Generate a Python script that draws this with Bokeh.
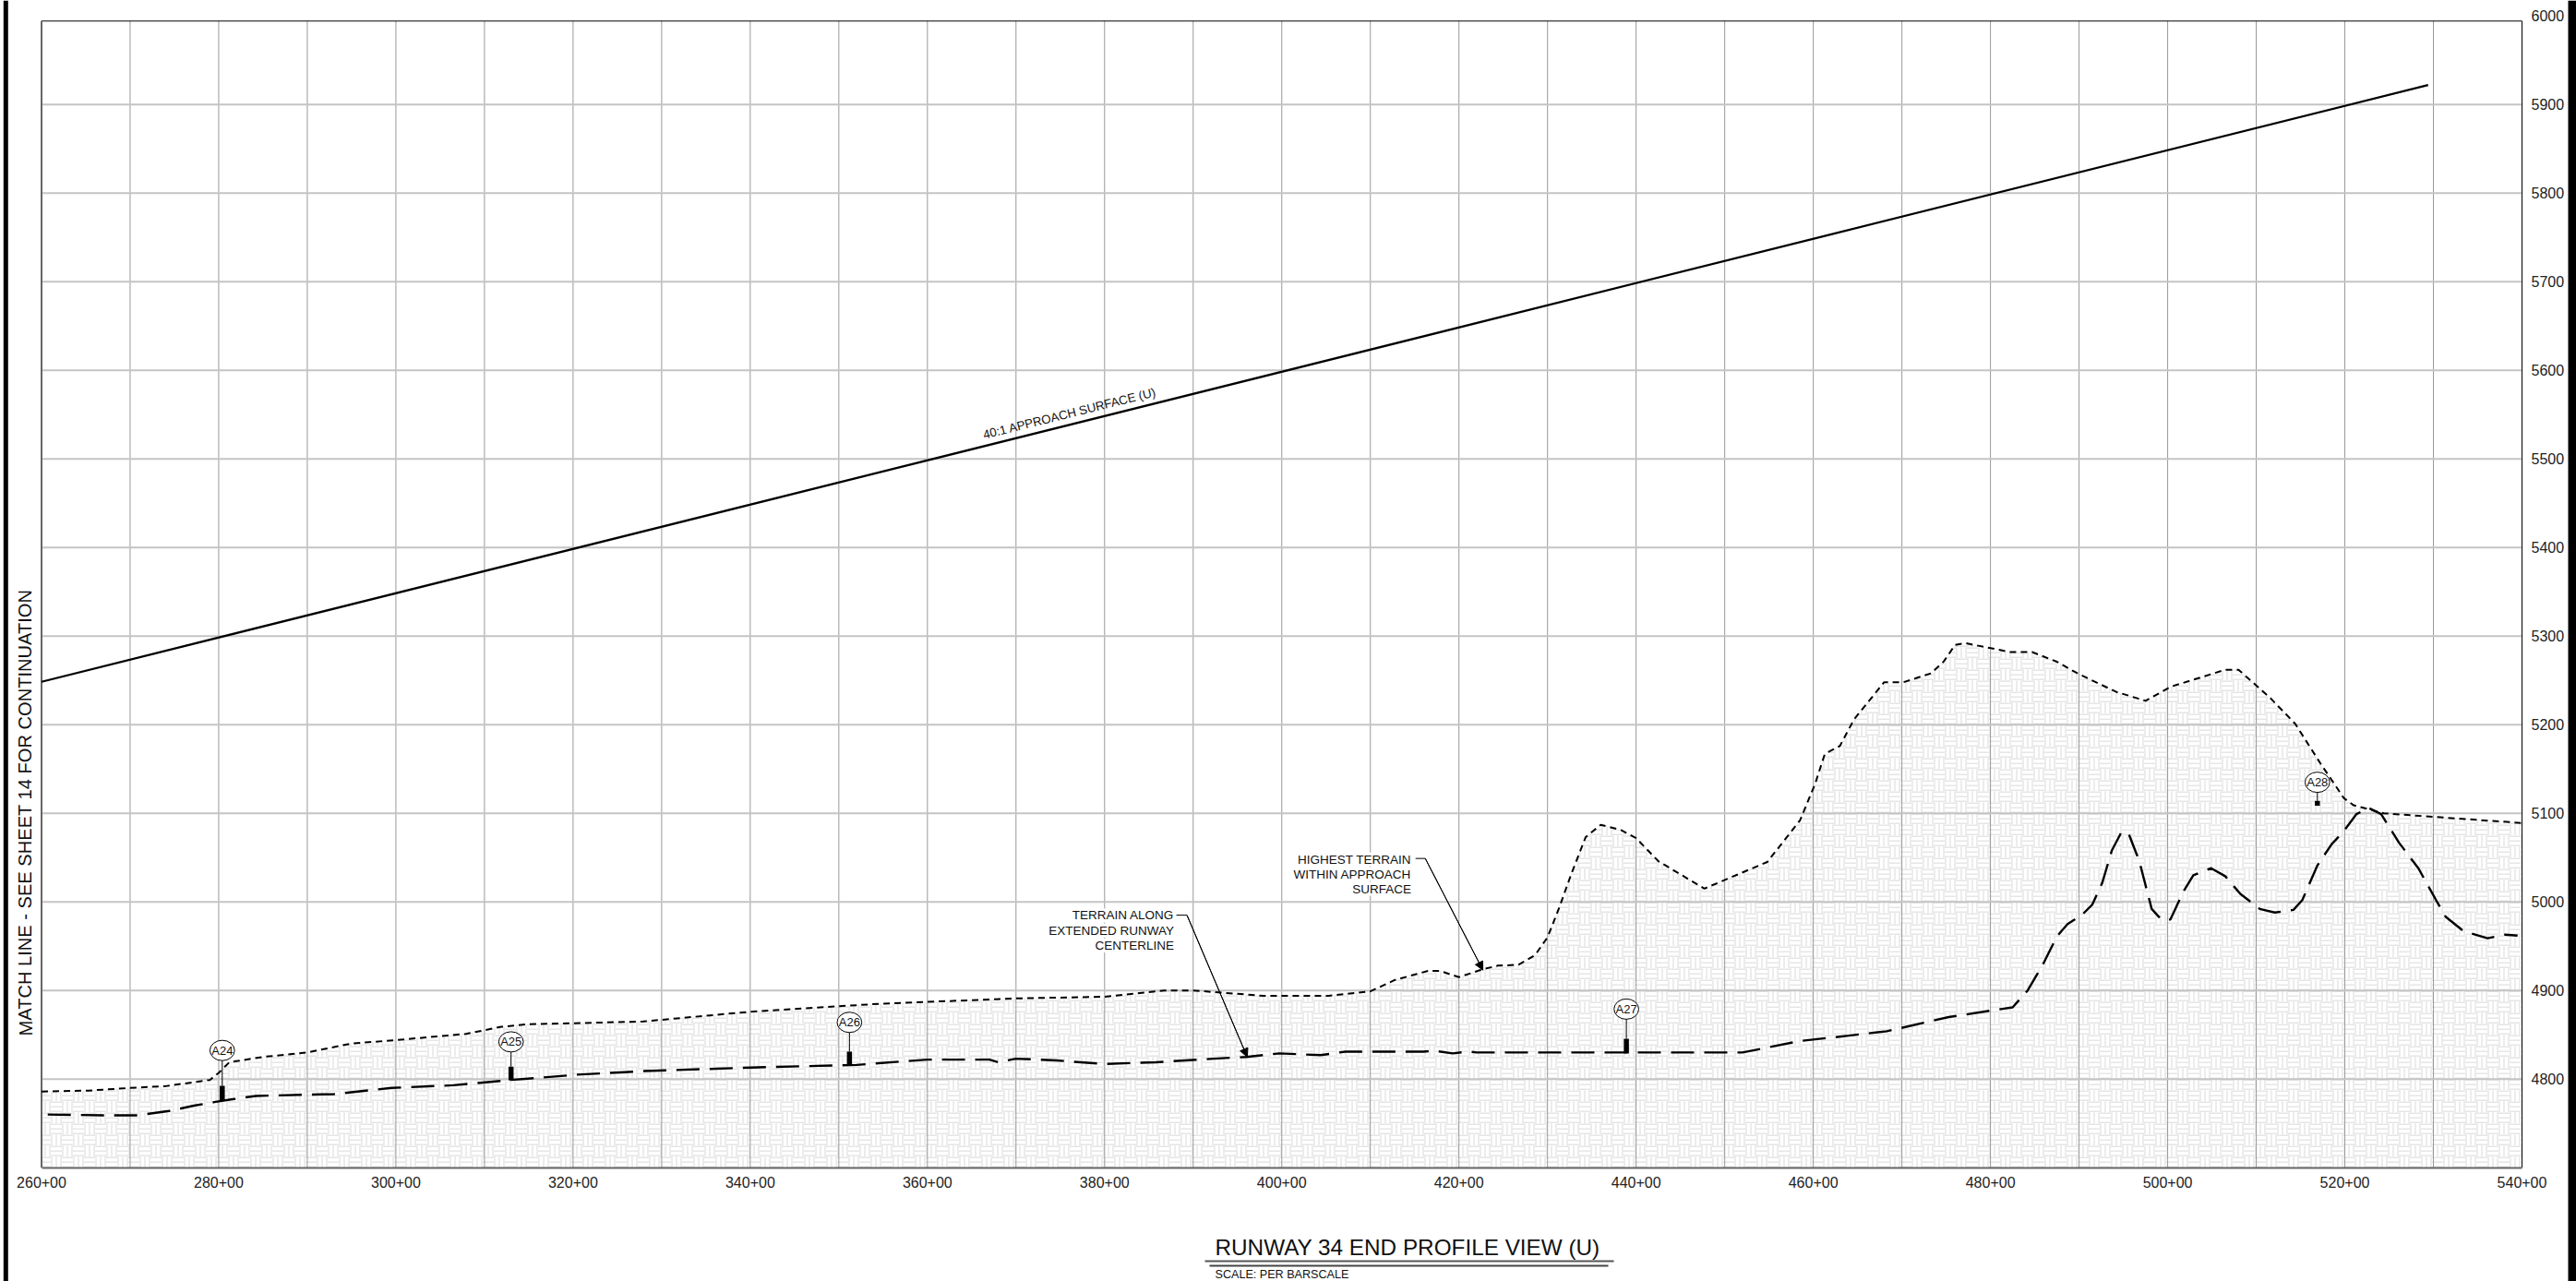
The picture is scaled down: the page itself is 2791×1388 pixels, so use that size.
import numpy as np
from bokeh.plotting import figure
from bokeh.embed import file_html
from bokeh.resources import INLINE
from bokeh.core.properties import value
from bokeh.models import FixedTicker, Label, Arrow, NormalHead, ColumnDataSource

FONT = "Liberation Sans"

x_major_ticks = [260, 280, 300, 320, 340, 360, 380, 400, 420, 440, 460, 480, 500, 520, 540]
x_grid_ticks = [270, 280, 290, 300, 310, 320, 330, 340, 350, 360, 370, 380, 390, 400, 410, 420,
                430, 440, 450, 460, 470, 480, 490, 500, 510, 520, 530]
y_ticks = [4800, 4900, 5000, 5100, 5200, 5300, 5400, 5500, 5600, 5700, 5800, 5900, 6000]
y_grid_ticks = [4800, 4900, 5000, 5100, 5200, 5300, 5400, 5500, 5600, 5700, 5800, 5900]

approach_station = [260, 529.4]
approach_elev = [5248.4, 5921.9]

high_station = [260, 265.3, 270, 274, 279, 280, 281.2, 285, 290, 294.9, 300, 307.9, 311.9, 315, 320,
                327.9, 340, 354.6, 370, 380, 386.7, 390, 397.9, 405.3, 410, 412.8, 416.5, 417.9, 420,
                422.7, 424.4, 426.7, 428.6, 430, 431.3, 432.7, 434.3, 436, 438.3, 440, 442.5, 447.7,
                454.8, 458.5, 460.2, 461.3, 463, 464.6, 468, 470.2, 473.3, 474.7, 476, 477.2, 482.2,
                484.7, 487.5, 490, 494.2, 497.5, 500.4, 506.5, 508, 511.6, 514.4, 517.2, 519.9, 521,
                524.4, 530, 540]
high_elev = [4786, 4787, 4790, 4792, 4799, 4807, 4819, 4825, 4830, 4840, 4844, 4851, 4859, 4862, 4863,
             4865, 4876, 4885, 4891, 4893, 4900, 4900, 4894, 4894, 4899, 4912, 4922, 4922, 4915,
             4924, 4928, 4929, 4940, 4960, 4993, 5032, 5073, 5087, 5081, 5072, 5046, 5015,
             5045, 5092, 5133, 5167, 5176, 5206, 5248, 5248, 5258, 5271, 5290, 5292, 5282,
             5282, 5271, 5257, 5237, 5227, 5243, 5262, 5262, 5230, 5201, 5157, 5117, 5109,
             5100, 5096, 5089]

center_station = [260.7, 267, 270.7, 274.4, 277.2, 279.5, 281.4, 284.2, 293, 299.5, 306.5, 313, 320.5,
                  328, 340, 352, 360, 367, 368, 370, 374.6, 380, 385.8, 392.3, 396, 399.7, 404.4,
                  407.2, 416, 417.2, 419.3, 421.1, 422, 442.5, 452, 458.5, 464, 468.3, 475.3, 482.5,
                  484.2, 485.9, 487.5, 488.7, 490.3, 491.5, 492.6, 493.7, 494.8, 495.6, 496.8, 498.2,
                  499.3, 500.3, 501.8, 502.9, 504.9, 506.5, 508.2, 510.4, 512.1, 514.2, 515.2, 516.9,
                  518.5, 519.9, 521.3, 522.7, 524.1, 526.1, 528.3, 530.3, 531.4, 533.4, 536.1, 538.1,
                  539.5]
center_elev = [4760, 4759, 4759, 4764, 4770, 4774, 4777, 4781, 4783, 4790, 4793, 4799, 4805,
               4809, 4813, 4816, 4822, 4822, 4819, 4823, 4821, 4817, 4819, 4823, 4825, 4829, 4827,
               4831, 4831, 4832, 4829, 4831, 4830, 4830, 4830, 4843, 4849, 4854, 4870, 4881,
               4900, 4929, 4961, 4975, 4985, 4997, 5021, 5058, 5079, 5077, 5046, 4992,
               4980, 4980, 5012, 5030, 5038, 5029, 5009, 4992, 4988, 4991, 5002, 5041,
               5065, 5080, 5099, 5106, 5099, 5067, 5038, 5002, 4983, 4967, 4959, 4963,
               4962]

marker_names = ["A24", "A25", "A26", "A27", "A28"]
marker_station = [280.4, 313, 351.2, 438.9, 516.9]
marker_elev = [4832.3, 4842, 4864, 4879, 5135]
marker_bar_top = [4792.4, 4814, 4831, 4845.5, 5114]
marker_bar_bottom = [4776, 4798.5, 4816, 4829, 5108.5]

leader_center_station = [388.1, 389.3, 396.1]
leader_center_elev = [4985, 4985, 4825]
leader_high_station = [415.1, 416.2, 422.7]
leader_high_elev = [5049, 5049, 4923]

X0, X1, Y0, Y1 = 260, 540, 4700, 5994.2
PX_X = 280 / 2687.5   # stations per pixel
PX_Y = 1294.2 / 1242.4  # feet per pixel


def weave():
    """Basket-weave texture of the terrain fill, as one broken line."""
    xs, ys = [], []
    cell = 12
    for ci in range(int(2687.5 / cell) + 2):
        x0 = ci * cell - 2
        s0, s1 = X0 + x0 * PX_X, X0 + (x0 + cell) * PX_X
        top = np.interp([s0, s1], high_station, high_elev).max()
        for cj in range(int((top - Y0) / PX_Y / cell) + 2):
            y0 = cj * cell
            e0, e1 = Y0 + y0 * PX_Y, Y0 + (y0 + cell) * PX_Y
            for k in (1, 6, 11):
                if (ci + cj) % 2 == 1:
                    sk = s0 + k * PX_X
                    if X0 <= sk <= X1:
                        xs += [sk, sk, np.nan]
                        ys += [e0, e1, np.nan]
                elif s0 < X1 and s1 > X0:
                    xs += [max(s0, X0), min(s1, X1), np.nan]
                    ys += [e0 + k * PX_Y, e0 + k * PX_Y, np.nan]
    return xs, ys


# the frame fills the page, so that every text and rule of the sheet can be placed on it
p = figure(width=2791, height=1388, output_backend="svg", toolbar_location=None,
           x_range=(X0 - 44.5 * PX_X, X1 + 59 * PX_X), y_range=(Y0 - 123.3 * PX_Y, Y1 + 22.3 * PX_Y),
           y_axis_location="right",
           min_border_left=0, min_border_right=0, min_border_top=0, min_border_bottom=0,
           background_fill_color="white", border_fill_color="white")
p.outline_line_color = None
p.grid.visible = False

p.xaxis.fixed_location = Y0
p.yaxis.fixed_location = X1
p.xaxis.bounds = (X0, X1)
p.yaxis.bounds = (Y0, 6000)
p.xaxis.ticker = FixedTicker(ticks=x_major_ticks)
p.xaxis.major_label_overrides = {t: f"{t}+00" for t in x_major_ticks}
p.yaxis.ticker = FixedTicker(ticks=y_ticks)
p.yaxis.major_label_overrides = {t: str(t) for t in y_ticks}
for ax in (p.xaxis[0], p.yaxis[0]):
    ax.major_tick_line_color = None
    ax.minor_tick_line_color = None
    ax.major_label_text_font = FONT
    ax.major_label_text_font_size = "16px"
    ax.major_label_text_color = "#222222"
    ax.major_label_standoff = 4
p.xaxis.axis_line_color = "#666666"
p.xaxis.axis_line_width = 2
p.yaxis.axis_line_color = None

wx, wy = weave()
p.line(wx, wy, line_color="#e6e6e6", line_width=1.5, level="image")
# white above the terrain profile hides what the weave cells overshoot
p.varea(x=high_station, y1=high_elev, y2=[Y1 + 30] * len(high_station), fill_color="white", level="image")

p.segment(x0=x_grid_ticks, y0=[Y0] * len(x_grid_ticks), x1=x_grid_ticks, y1=[Y1] * len(x_grid_ticks),
          line_color="#999999", line_width=1, level="underlay")
p.segment(x0=[X0] * len(y_grid_ticks), y0=y_grid_ticks, x1=[X1] * len(y_grid_ticks), y1=y_grid_ticks,
          line_color="#c4c4c4", line_width=2, level="underlay")
p.line([X0, X1, X1], [Y1, Y1, Y0], line_color="black", line_width=1)
p.line([X0, X0], [Y0, Y1], line_color="#666666", line_width=2)

p.line(approach_station, approach_elev, line_color="black", line_width=2.3)
p.line(high_station, high_elev, line_color="black", line_width=2, line_dash="7 5")
p.line(center_station, center_elev, line_color="black", line_width=2.4, line_dash="25 11")

p.line(leader_center_station, leader_center_elev, line_color="black", line_width=1)
p.line(leader_high_station, leader_high_elev, line_color="black", line_width=1)
for sx, sy in ((leader_center_station, leader_center_elev), (leader_high_station, leader_high_elev)):
    p.add_layout(Arrow(end=NormalHead(size=9, fill_color="black", line_color="black", line_width=1),
                       line_color="black", line_width=1, x_start=sx[-2], y_start=sy[-2],
                       x_end=sx[-1], y_end=sy[-1]))

src = ColumnDataSource(dict(x=marker_station, y=marker_elev, top=marker_bar_top, bottom=marker_bar_bottom,
                            name=marker_names))
p.segment(x0="x", y0="y", x1="x", y1="top", source=src, line_color="black", line_width=1)
p.segment(x0="x", y0="top", x1="x", y1="bottom", source=src, line_color="black", line_width=5.5)
p.ellipse(x="x", y="y", width=26.7, height=22, width_units="screen", height_units="screen", source=src,
          fill_color="white", line_color="black", line_width=1)
p.text(x="x", y="y", text="name", source=src, text_align="center", text_baseline="middle",
       text_font=value(FONT), text_font_size="13px", text_color="#111111")

p.text(x=[366.3], y=[5527], text=["40:1 APPROACH SURFACE (U)"], angle=0.245, text_font=value(FONT),
       text_font_size="13.3px", text_color="#111111", text_baseline="alphabetic")


def label(x, y, text, size, align="left", angle=0, color="#111111"):
    p.add_layout(Label(x=x, y=y, x_units="canvas", y_units="canvas", text=text, text_font=FONT,
                       text_font_size=f"{size}px", text_align=align, text_baseline="middle",
                       angle=angle, text_color=color, background_fill_color="white"))


def rule(x0, x1, y0, y1, color, width):
    p.add_layout(Arrow(end=None, x_start=x0, x_end=x1, y_start=y0, y_end=y1,
                       start_units="canvas", end_units="canvas",
                       line_color=color, line_width=width))


for i, t in enumerate(["TERRAIN ALONG", "EXTENDED RUNWAY", "CENTERLINE"]):
    label(1271.4, 991.4 + 16.3 * i, t, 13.5, align="right")
for i, t in enumerate(["HIGHEST TERRAIN", "WITHIN APPROACH", "SURFACE"]):
    label(1528.6, 930.6 + 16 * i, t, 13.5, align="right")
label(27, 1122, "MATCH LINE - SEE SHEET 14 FOR CONTINUATION", 20.1, angle=1.5708)
label(1316, 1350.5, "RUNWAY 34 END PROFILE VIEW (U)", 24.3)
label(1316, 1380.5, "SCALE: PER BARSCALE", 12.6)

rule(1305, 1748, 1366, 1366, "#555555", 2)
rule(1310, 1742, 1371, 1371, "#444444", 2)
rule(5.8, 5.8, 0, 1388, "black", 5)
rule(2786.5, 2786.5, 0, 1388, "black", 9)

open("out.html", "w").write(file_html(p, INLINE))
